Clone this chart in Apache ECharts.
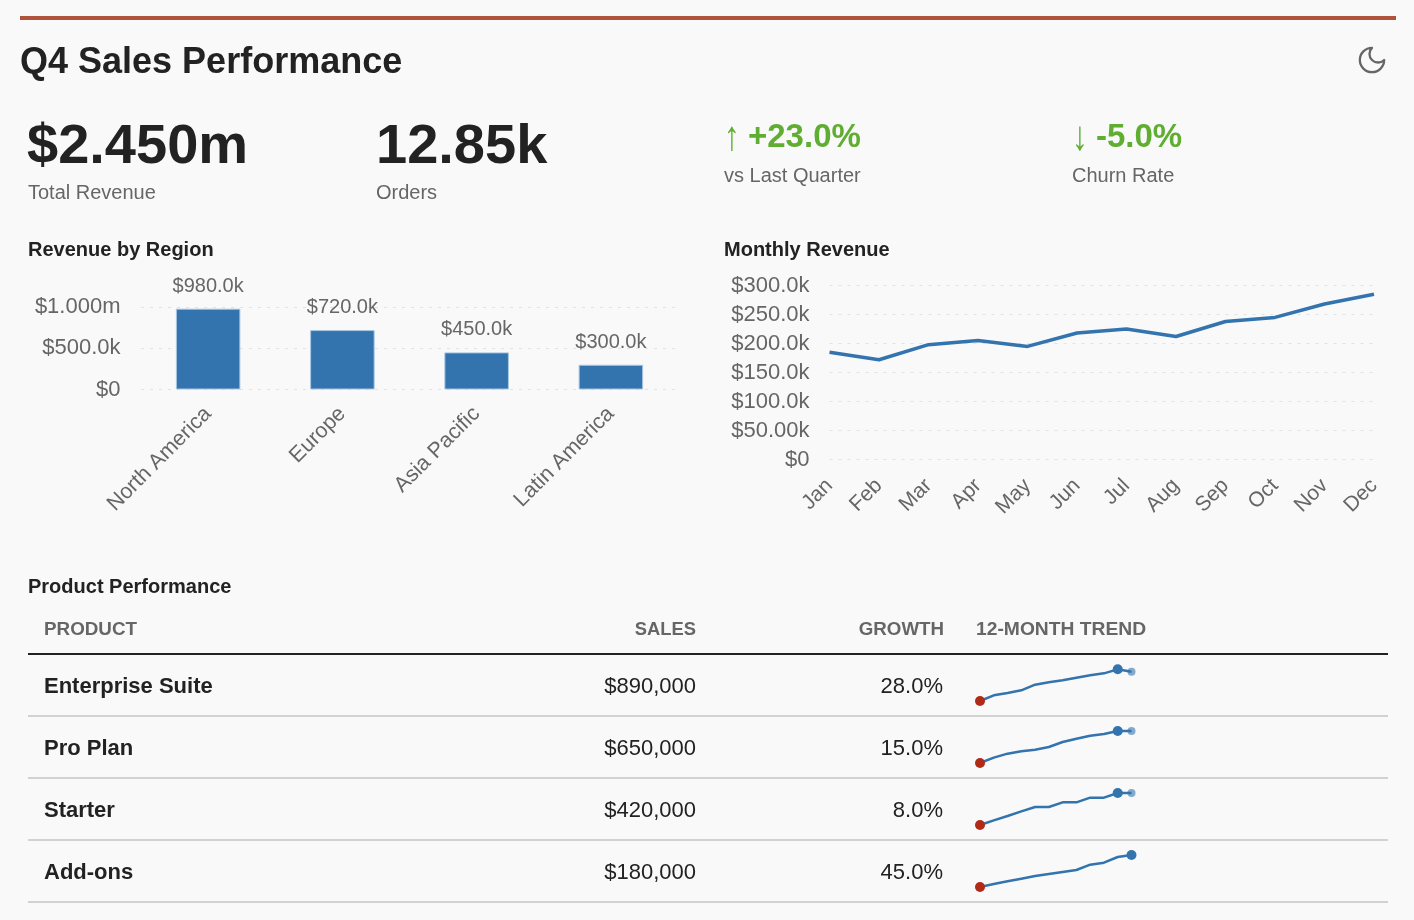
<!DOCTYPE html>
<html>
<head>
    <meta charset="utf-8">
    <title>Q4 Sales Performance</title>
    <script src="https://cdn.jsdelivr.net/npm/echarts@6/dist/echarts.min.js"></script>
    <style>
        html, body { margin: 0; padding: 0; background: #f9f9f9; }
    </style>
</head>
<body>
    <div id="main" style="width: 1414px;height:920px;"></div>

    <script type="text/javascript">
        // region bars
        var regions = ['North America', 'Europe', 'Asia Pacific', 'Latin America'];
        var regionRevenue = [980000, 720000, 450000, 300000];

        // monthly line
        var months = ['Jan', 'Feb', 'Mar', 'Apr', 'May', 'Jun', 'Jul', 'Aug', 'Sep', 'Oct', 'Nov', 'Dec'];
        var monthlyRevenue = [185000, 172000, 198000, 205000, 195000, 218000, 225000, 212000, 238000, 245000, 268000, 285000];

        // table
        var products = ['Enterprise Suite', 'Pro Plan', 'Starter', 'Add-ons'];
        var sales = ['$890,000', '$650,000', '$420,000', '$180,000'];
        var growth = ['28.0%', '15.0%', '8.0%', '45.0%'];
        var tableHeader = ['PRODUCT', 'SALES', 'GROWTH', '12-MONTH TREND'];

        // sparklines in relative units
        var trendEnterprise = [0, 17, 24, 32, 49, 56, 62, 70, 77, 83, 95, 88];
        var trendPro = [0, 16, 28, 35, 40, 48, 63, 73, 82, 87, 96, 96];
        var trendStarter = [0, 14, 27, 41, 54, 54, 68, 68, 82, 82, 96, 96];
        var trendAddons = [0, 9, 17, 25, 33, 39, 45, 51, 67, 73, 90, 96];
        var trends = [trendEnterprise, trendPro, trendStarter, trendAddons];
        var trendMaxIndex = [10, 10, 10, 11];

        var BLUE = '#3373ae';
        var GREY = '#666666';
        var INK = '#222222';
        var GREEN = '#5fae31';
        var FONT = '"Liberation Sans", Arial, sans-serif';

        // moon icon for the theme toggle
        echarts.graphic.registerShape('moon', echarts.graphic.extendPath('M12 3a6 6 0 0 0 9 9 9 9 0 1 1-9-9Z', {}));

        // $980.0k style labels
        function money(v) {
            if (v === 0) return '$0';
            if (v >= 1000000) return '$' + (v / 1000000).toFixed(3) + 'm';
            if (v < 100000) return '$' + (v / 1000).toFixed(2) + 'k';
            return '$' + (v / 1000).toFixed(1) + 'k';
        }

        function label(text, x, y, size, color, weight, align, scaleX, scaleY) {
            return {
                type: 'text',
                x: x,
                y: y,
                scaleX: scaleX || 1,
                scaleY: scaleY || 1,
                silent: true,
                style: {
                    text: text,
                    fill: color,
                    font: (weight || 'normal') + ' ' + size + 'px ' + FONT,
                    align: align || 'left',
                    verticalAlign: 'middle'
                }
            };
        }

        function rule(x1, x2, y, color, width) {
            return {
                type: 'line',
                silent: true,
                shape: { x1: x1, y1: y, x2: x2, y2: y },
                style: { stroke: color, lineWidth: width }
            };
        }

        var graphics = [
            { type: 'rect', silent: true, shape: { x: 20, y: 16, width: 1376, height: 4 }, style: { fill: '#b0533c' } },
            label('Q4 Sales Performance', 20, 63, 36, INK, 'bold'),
            {
                type: 'moon',
                silent: true,
                x: 1355.8,
                y: 43.8,
                scaleX: 1.35,
                scaleY: 1.35,
                style: { fill: 'none', stroke: GREY, lineWidth: 1.7, lineJoin: 'round' }
            },
            label('$2.450m', 27, 148, 56, INK, 'bold'),
            label('Total Revenue', 28, 193, 20, GREY),
            label('12.85k', 376, 148, 56, INK, 'bold'),
            label('Orders', 376, 193, 20, GREY),
            label('↑', 724, 139, 32, GREEN, 'normal', 'left', 1, 1.3),
            label('+23.0%', 748, 138, 33, GREEN, 'bold'),
            label('vs Last Quarter', 724, 176, 20, GREY),
            label('↓', 1072, 139, 32, GREEN, 'normal', 'left', 1, 1.3),
            label('-5.0%', 1096, 138, 33, GREEN, 'bold'),
            label('Churn Rate', 1072, 176, 20, GREY),
            label('Revenue by Region', 28, 250, 20, INK, 'bold'),
            label('Monthly Revenue', 724, 250, 20, INK, 'bold'),
            label('Product Performance', 28, 587, 20, INK, 'bold'),
            // header has letter spacing in the original, stretch a little instead
            label(tableHeader[0], 44, 630.5, 18, GREY, 'bold', 'left', 1.045),
            label(tableHeader[1], 696, 630.5, 18, GREY, 'bold', 'right', 1.02),
            label(tableHeader[2], 944, 630.5, 18, GREY, 'bold', 'right', 1.04),
            label(tableHeader[3], 976, 630.5, 18, GREY, 'bold', 'left', 1.07),
            rule(28, 1388, 654, INK, 2)
        ];

        products.forEach(function (name, i) {
            var y = 686.5 + i * 62;
            graphics.push(label(name, 44, y, 22, INK, 'bold'));
            graphics.push(label(sales[i], 696, y, 22, INK, 'normal', 'right'));
            graphics.push(label(growth[i], 943, y, 22, INK, 'normal', 'right'));
            graphics.push(rule(28, 1388, 716 + i * 62, '#d2d2d2', 2));
        });

        var splitStyle = { show: true, lineStyle: { color: '#e2e2e2', width: 1, type: [3, 6] } };

        var grids = [
            { left: 141, top: 307, width: 537, height: 82.5 },
            { left: 829.5, top: 285.5, width: 544.5, height: 174 }
        ];
        var xAxes = [
            {
                type: 'category', gridIndex: 0, data: regions,
                axisLine: { show: false }, axisTick: { show: false },
                axisLabel: { rotate: 45, interval: 0, color: GREY, fontSize: 21.5, fontFamily: FONT, margin: 21 }
            },
            {
                type: 'category', gridIndex: 1, data: months, boundaryGap: false,
                axisLine: { show: false }, axisTick: { show: false },
                axisLabel: { rotate: 45, interval: 0, color: GREY, fontSize: 21, fontFamily: FONT, margin: 23 }
            }
        ];
        var yAxes = [
            {
                type: 'value', gridIndex: 0, min: 0, max: 1000000, interval: 500000,
                axisLine: { show: false }, axisTick: { show: false }, splitLine: splitStyle,
                axisLabel: { color: GREY, fontSize: 22, fontFamily: FONT, margin: 20.5, padding: [3, 0, 0, 0], formatter: money }
            },
            {
                type: 'value', gridIndex: 1, min: 0, max: 300000, interval: 50000,
                axisLine: { show: false }, axisTick: { show: false }, splitLine: splitStyle,
                axisLabel: { color: GREY, fontSize: 22, fontFamily: FONT, margin: 20, padding: [2, 0, 0, 0], formatter: money }
            }
        ];
        var series = [
            {
                type: 'bar', xAxisIndex: 0, yAxisIndex: 0, data: regionRevenue, barWidth: 64.5,
                itemStyle: { color: BLUE, borderColor: '#a9c6e0', borderWidth: 1 },
                label: {
                    show: true, position: 'top', distance: 12.5, color: GREY, fontSize: 20, fontFamily: FONT,
                    formatter: function (p) { return money(p.value); }
                }
            },
            {
                type: 'line', xAxisIndex: 1, yAxisIndex: 1, data: monthlyRevenue, symbol: 'none',
                lineStyle: { color: BLUE, width: 3.5 }
            }
        ];

        // one small grid per table row
        trends.forEach(function (values, i) {
            var g = 2 + i;
            var last = values.length - 1;
            var dots = [
                { value: [0, values[0]], symbolSize: 10, itemStyle: { color: '#b02a17', opacity: 1 } },
                { value: [trendMaxIndex[i], values[trendMaxIndex[i]]], symbolSize: 10, itemStyle: { color: BLUE, opacity: 1 } }
            ];
            if (trendMaxIndex[i] !== last) {
                dots.push({ value: [last, values[last]], symbolSize: 8, itemStyle: { color: BLUE, opacity: 0.6 } });
            }
            grids.push({ left: 980, top: 669 + i * 62, width: 151.5, height: 32 });
            xAxes.push({ type: 'category', gridIndex: g, show: false, boundaryGap: false, data: months });
            yAxes.push({ type: 'value', gridIndex: g, show: false, min: 0, max: 96, splitLine: { show: false } });
            series.push({
                type: 'line', xAxisIndex: g, yAxisIndex: g, data: values, symbol: 'none', clip: false,
                lineStyle: { color: BLUE, width: 2.5 }
            });
            series.push({
                type: 'scatter', xAxisIndex: g, yAxisIndex: g, data: dots, clip: false, z: 5
            });
        });

        var myChart = echarts.init(document.getElementById('main'));
        myChart.setOption({
            backgroundColor: '#f9f9f9',
            animation: false,
            textStyle: { fontFamily: FONT },
            graphic: graphics,
            grid: grids,
            xAxis: xAxes,
            yAxis: yAxes,
            series: series
        });
    </script>
</body>
</html>
